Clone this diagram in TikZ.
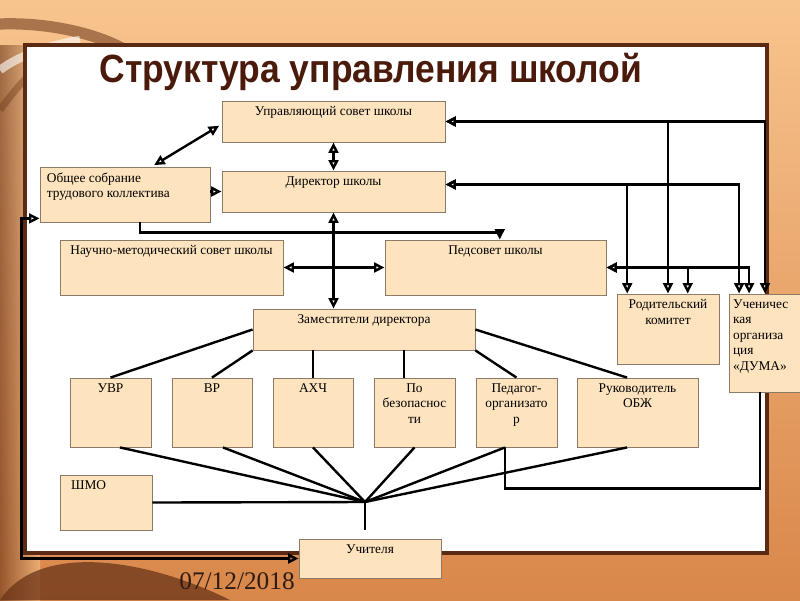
\documentclass[tikz,border=0pt]{standalone}
\usepackage{fontspec}
\setmainfont{Liberation Serif}
\newfontfamily\titlefont{Liberation Sans}
\usetikzlibrary{arrows.meta}

\definecolor{boxfill}{HTML}{FDE3BE}
\definecolor{boxline}{HTML}{8C7A68}
\definecolor{titlebrown}{HTML}{4A1A0A}
\definecolor{panelline}{HTML}{5A2A12}
\definecolor{bgtop}{HTML}{F8C48E}
\definecolor{bgbot}{HTML}{D9874A}
\definecolor{bgdark}{HTML}{6A3418}
\definecolor{datebrown}{HTML}{2E1C12}

\begin{document}
\begin{tikzpicture}[x=0.025cm, y=-0.025cm, >={Triangle[open, length=7.5pt, width=7pt]},
    box/.style={draw=boxline, fill=boxfill, inner sep=0pt, line width=0.6pt},
    sz/.style 2 args={minimum width=#1*0.025cm, minimum height=#2*0.025cm},
    boxtext/.style={anchor=north, align=center, inner sep=4pt, font=\fontsize{9.5}{11}\selectfont},
    lefttext/.style={boxtext, anchor=north west, align=left, inner xsep=5pt},
    link/.style={line width=1.7pt}]
    \useasboundingbox (0,0) rectangle (800,600);

    % background of the slide
    \shade[top color=bgtop, bottom color=bgbot] (0,0) rectangle (800,600);
    \shade[left color=bgdark, right color=bgtop, opacity=0.6] (0,45) rectangle (40,600);
    \fill[bgdark, opacity=0.75] (0,600) .. controls (40,540) and (150,560) .. (230,600) -- cycle;
    \draw[line width=8pt, bgdark, opacity=0.55] (0,24) .. controls (50,22) and (110,35) .. (140,60);
    \draw[line width=6pt, white, opacity=0.6] (0,70) .. controls (20,55) and (50,45) .. (80,40);
    \draw[line width=5pt, bgdark, opacity=0.4] (0,110) .. controls (15,90) and (30,70) .. (60,50);

    % white panel
    \draw[fill=white, draw=panelline, line width=2.2pt] (25,45) rectangle (767,553);

    \node[font=\titlefont\bfseries\fontsize{28}{32}\selectfont, text=titlebrown] (ttl) at (371,72) {\scalebox{0.9}[1]{Структура управления школой}};

    % boxes
    \node[box, sz={223}{41}, label={[boxtext]north:{Управляющий совет школы}}] (upr) at (333.5,121.5) {};
    \node[box, sz={223}{41}, label={[boxtext]north:{Директор школы}}] (dir) at (333.5,191.5) {};
    \node[box, sz={170}{55}, label={[lefttext]north west:{Общее собрание\\трудового коллектива}}] (obs) at (125,194.5) {};
    \node[box, sz={223}{55}, label={[boxtext]north:{Научно-методический совет школы}}] (nms) at (171.5,267.5) {};
    \node[box, sz={221}{55}, label={[boxtext]north:{Педсовет школы}}] (ped) at (495.5,267.5) {};
    \node[box, sz={222}{41}, label={[boxtext]north:{Заместители директора}}] (zam) at (364,329.5) {};
    \node[box, sz={102}{70}, label={[boxtext]north:{Родительский\\комитет}}] (rod) at (668,329) {};
    \node[box, sz={72}{98}, label={[lefttext, inner xsep=3pt]north west:{Ученичес\\кая\\организа\\ция\\«ДУМА»}}] (duma) at (765,343) {};

    \node[box, sz={81}{69}, label={[boxtext]north:{УВР}}] (uvr) at (110.5,412.5) {};
    \node[box, sz={80}{69}, label={[boxtext]north:{ВР}}] (vr) at (212,412.5) {};
    \node[box, sz={80}{69}, label={[boxtext]north:{АХЧ}}] (ahch) at (313,412.5) {};
    \node[box, sz={81}{69}, label={[boxtext]north:{По\\безопаснос\\ти}}] (bez) at (414.5,412.5) {};
    \node[box, sz={81}{69}, label={[boxtext]north:{Педагог-\\организато\\р}}] (pedorg) at (516.5,412.5) {};
    \node[box, sz={121}{69}, label={[boxtext]north:{Руководитель\\ОБЖ}}] (obzh) at (637.5,412.5) {};
    \node[box, sz={92}{55}, label={[lefttext, inner xsep=8pt]north west:{ШМО}}] (shmo) at (106,502.5) {};
    \node[box, sz={142}{39}, label={[boxtext]north:{Учителя}}] (uch) at (370,558.5) {};

    \node[font=\fontsize{18}{20}\selectfont, text=datebrown] (date) at (237,581) {07/12/2018};

    \coordinate (j) at (365,502);
    \coordinate (jt) at (365,530);

    % arrows between the governing bodies
    \draw[link, <->, shorten <=2pt, shorten >=2pt] ([xshift=19pt]obs.north) -- ([yshift=-2pt]upr.west);
    \draw[link, <->] (upr.south) -- (dir.north);
    \draw[link, ->] (obs.east |- dir.west) -- (dir.west);
    \draw[link, ->] ([xshift=10.5pt]obs.south) -- ++(0,10) -| ([xshift=3pt]ped.north);
    \draw[link, <->] (dir.south) -- (dir.south |- zam.north);
    \draw[link, <->] (nms.east) -- (ped.west);
    \draw[link, <->] ([yshift=-17pt]obs.west) -- ++(-18,0) |- (uch.west);

    % parents and pupils
    \draw[link, <->] (rod.north) |- (upr.east);
    \draw[link, <->] (duma.north) |- (upr.east);
    \draw[link, <->] ([xshift=-29pt]rod.north) |- ([yshift=5pt]dir.east);
    \draw[link, <->] ([xshift=-18.4pt]duma.north) |- ([yshift=5pt]dir.east);
    \draw[link, <->] ([xshift=14pt]rod.north) |- (ped.east);
    \draw[link, <->] ([xshift=-11.3pt]duma.north) |- (ped.east);

    % deputies
    \draw[link] (zam.west) -- (uvr.north);
    \draw[link] (zam.south west) -- (vr.north);
    \draw[link] (ahch.north) -- (ahch.north |- zam.south);
    \draw[link] ([xshift=-7.5pt]bez.north) -- ([xshift=-7.5pt]bez.north |- zam.south);
    \draw[link] (zam.south east) -- (pedorg.north);
    \draw[link] (zam.east) -- ([xshift=-7.4pt]obzh.north);

    % to the teachers
    \draw[link] ([xshift=6.7pt]uvr.south) -- (j);
    \draw[link] ([xshift=7.8pt]vr.south) -- (j);
    \draw[link] (ahch.south) -- (j);
    \draw[link] (bez.south) -- (j);
    \draw[link] ([xshift=-8.2pt]pedorg.south) -- (j);
    \draw[link] ([xshift=-7.4pt]obzh.south) -- (j);
    \draw[link] (shmo.east) -- (j);
    \draw[link] (j) -- (jt);
    \draw[link] ([xshift=-8.2pt]pedorg.south) -- ++(0,41) -| ([xshift=-3.5pt]duma.south);
\end{tikzpicture}
\end{document}
